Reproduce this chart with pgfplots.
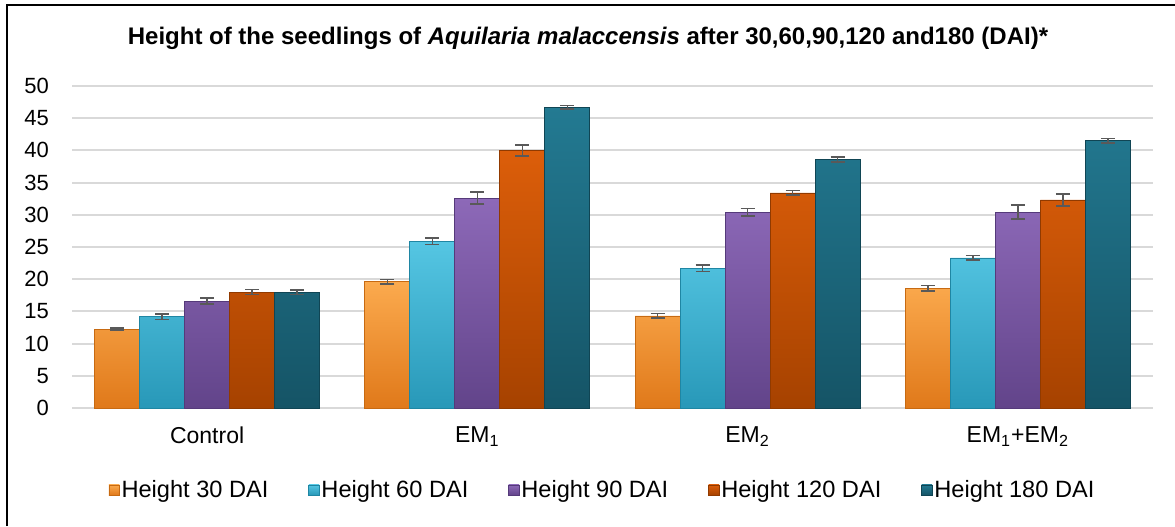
\documentclass[border=0pt]{standalone}
\usepackage{fontspec}
\setmainfont{Liberation Sans}
\usepackage{pgfplots}
\pgfplotsset{compat=1.18}
\definecolor{oA}{HTML}{FBAA4E}\definecolor{oB}{HTML}{E0791A}\definecolor{oE}{HTML}{C76A12}
\definecolor{bA}{HTML}{55C6E3}\definecolor{bB}{HTML}{2898B8}\definecolor{bE}{HTML}{1F86A3}
\definecolor{pA}{HTML}{8D69B8}\definecolor{pB}{HTML}{62448A}\definecolor{pE}{HTML}{553A7A}
\definecolor{rA}{HTML}{DC5E0A}\definecolor{rB}{HTML}{A64200}\definecolor{rE}{HTML}{913A00}
\definecolor{tA}{HTML}{237A92}\definecolor{tB}{HTML}{155466}\definecolor{tE}{HTML}{104554}
\definecolor{gridc}{HTML}{D9D9D9}
\definecolor{errc}{HTML}{595959}
\begin{document}
\begin{tikzpicture}
\begin{axis}[
  at={(0pt,0pt)}, anchor=south west,
  scale only axis, width=540.5pt, height=161pt,
  ybar=0pt, bar width=22.5pt,
  xmin=-0.5, xmax=3.5, ymin=0, ymax=50,
  xtick={0,1,2,3},
  xticklabels={Control, EM\textsubscript{1}, EM\textsubscript{2}, EM\textsubscript{1}+EM\textsubscript{2}},
  ytick={0,5,...,50},
  axis line style={draw=none},
  major tick length=0pt,
  ymajorgrids, grid style={line width=1pt, color=gridc},
  /pgf/number format/assume math mode=true,
  tick label style={font=\fontsize{11}{13}\selectfont},
  yticklabel style={xshift=-8pt},
  xticklabel style={yshift=-6pt, font=\fontsize{11.5}{13}\selectfont},
  clip=false,
  error bars/y dir=both, error bars/y explicit,
  error bars/error bar style={draw=errc, line width=0.8pt},
  error bars/error mark options={rotate=90, mark size=3.5pt, line width=0.8pt, draw=errc},
  legend columns=5,
  legend style={at={(0.5,0)}, anchor=center, yshift=-41pt, xshift=-5pt, draw=none,
    font=\fontsize{11.8}{13}\selectfont,
    /tikz/every even column/.append style={column sep=19pt},
    nodes={inner xsep=1pt}},
  legend image code/.code={\draw[#1, line width=0.3pt] (0pt,-2.6pt) rectangle (5.2pt,2.6pt);},
]
\addplot[draw=oE, top color=oA, bottom color=oB, line width=0.4pt] coordinates {
 (0,12.26) +- (0,0.12) (1,19.6) +- (0,0.33) (2,14.3) +- (0,0.36) (3,18.6) +- (0,0.44)};
\addplot[draw=bE, top color=bA, bottom color=bB, line width=0.4pt] coordinates {
 (0,14.2) +- (0,0.44) (1,25.9) +- (0,0.49) (2,21.7) +- (0,0.5) (3,23.3) +- (0,0.36)};
\addplot[draw=pE, top color=pA, bottom color=pB, line width=0.4pt] coordinates {
 (0,16.6) +- (0,0.47) (1,32.6) +- (0,0.9) (2,30.4) +- (0,0.55) (3,30.4) +- (0,1.09)};
\addplot[draw=rE, top color=rA, bottom color=rB, line width=0.4pt] coordinates {
 (0,18.0) +- (0,0.39) (1,40.0) +- (0,0.85) (2,33.4) +- (0,0.36) (3,32.3) +- (0,0.93)};
\addplot[draw=tE, top color=tA, bottom color=tB, line width=0.4pt] coordinates {
 (0,18.0) +- (0,0.36) (1,46.7) +- (0,0.3) (2,38.6) +- (0,0.39) (3,41.5) +- (0,0.36)};
\legend{Height 30 DAI, Height 60 DAI, Height 90 DAI, Height 120 DAI, Height 180 DAI}
\end{axis}
\node[font=\fontsize{12}{14}\selectfont\bfseries] at (258pt,185pt)
  {Height of the seedlings of \textit{Aquilaria malaccensis} after 30,60,90,120 and180 (DAI)*};
\draw[line width=1pt] (-32.5pt,-59pt) -- (-32.5pt,201.5pt) -- (551.5pt,201.5pt);
\pgfresetboundingbox
\path[use as bounding box] (-36pt,-59pt) rectangle (551.5pt,204pt);
\end{tikzpicture}
\end{document}
